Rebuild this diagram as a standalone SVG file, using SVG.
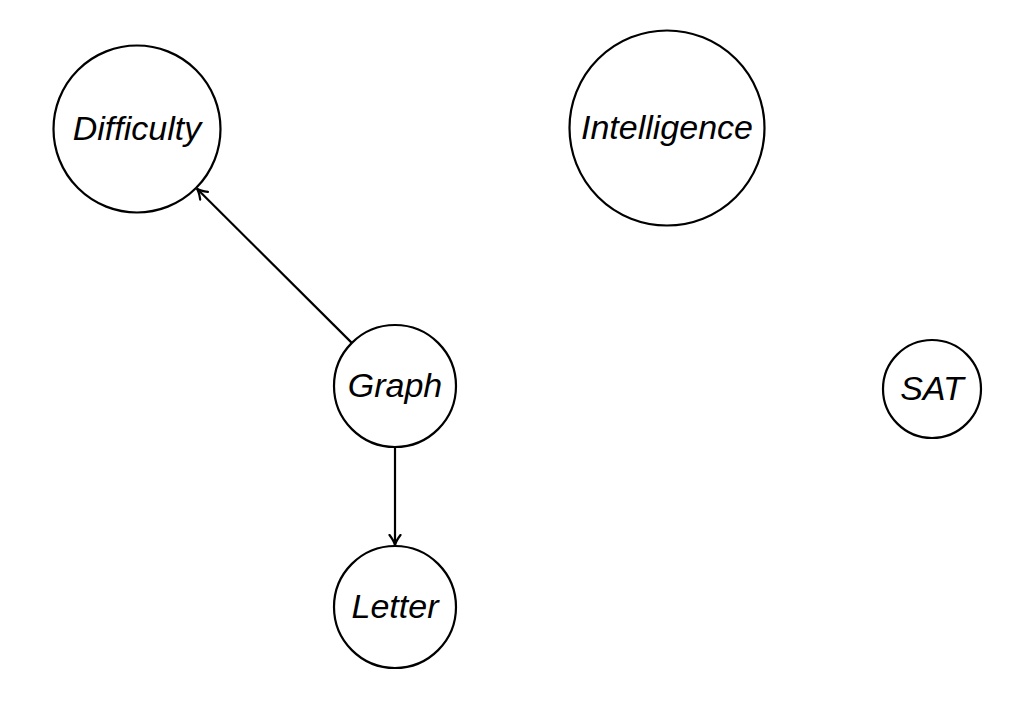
<svg xmlns="http://www.w3.org/2000/svg" width="1026" height="710" viewBox="0 0 1026 710">
<style>
.node circle{fill:#fff;stroke:#000;stroke-width:2.2}
.node text{font-family:"Liberation Sans",Arial,sans-serif;font-style:italic;font-size:34px;text-anchor:middle;fill:#000}
.edge{stroke:#000;stroke-width:2.2;fill:none;marker-end:url(#arr)}
</style>
<defs>
<marker id="arr" viewBox="-11 -7 13 14" refX="0" refY="0" markerWidth="13" markerHeight="14" markerUnits="userSpaceOnUse" orient="auto">
<path d="M-10,-5.5 Q-4,-1 0,0 Q-4,1 -10,5.5" fill="none" stroke="#000" stroke-width="2.2" stroke-linecap="round"/>
</marker>
</defs>
<rect width="1026" height="710" fill="#fff"/>
<g id="connectors">
<line class="edge" x1="351.8" y1="342.9" x2="197" y2="188.7"/>
<line class="edge" x1="395" y1="447" x2="395" y2="545"/>
</g>
<g id="Difficulty" class="node"><circle cx="137" cy="129" r="83.5"/><text x="137" y="140">Difficulty</text></g>
<g id="Intelligence" class="node"><circle cx="667" cy="128" r="97.5"/><text x="667" y="139">Intelligence</text></g>
<g id="Graph" class="node"><circle cx="395" cy="386" r="61"/><text x="395" y="397">Graph</text></g>
<g id="SAT" class="node"><circle cx="932" cy="389" r="49"/><text x="932" y="400">SAT</text></g>
<g id="Letter" class="node"><circle cx="395" cy="607" r="61"/><text x="395" y="618">Letter</text></g>
</svg>
